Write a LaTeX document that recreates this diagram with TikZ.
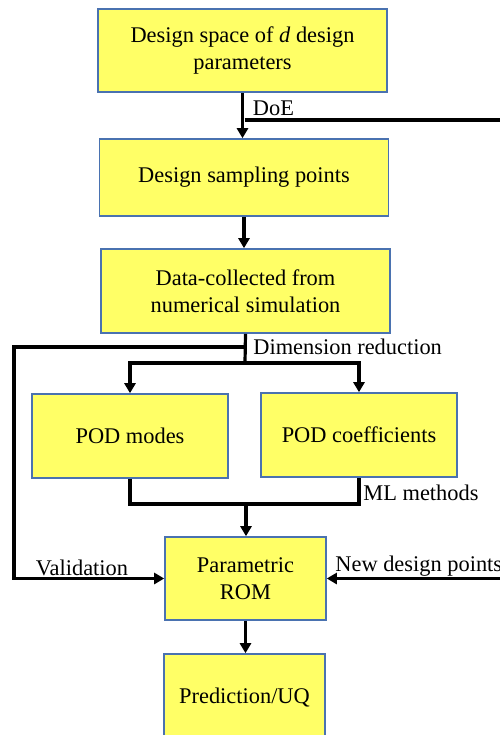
\documentclass[tikz,border=0pt]{standalone}
\usepackage{fontspec}
\setmainfont{Liberation Serif}
\usepackage{xcolor}
\usetikzlibrary{positioning,arrows.meta}
\definecolor{boxyellow}{HTML}{FFFF66}
\definecolor{boxedge}{HTML}{4A72B0}

\begin{document}
\begin{tikzpicture}[
x=0.5pt,y=-0.5pt,
box/.style={
draw=boxedge,
fill=boxyellow,
line width=0.8pt,
minimum width=144.5pt,
minimum height=41.5pt,
align=center,
inner sep=2pt,
font=\rmfamily\fontsize{11.2}{13.5}\selectfont
},
smallbox/.style={
box,
minimum width=80.5pt
},
link/.style={
line width=1.6pt,
color=black
},
arrow/.style={
link,
-{Triangle[length=5pt,width=5.5pt]}
},
lbl/.style={
font=\rmfamily\fontsize{11.2}{13.5}\selectfont,
inner sep=1pt
}
]
\useasboundingbox (0,0) rectangle (499,735);

\node[box] (space) at (242.5,50.5)
{Design space of \textit{d} design\\
parameters};

\node[box, minimum height=38.5pt] (sampling) at (244,177.5)
{Design sampling points};

\node[box, minimum height=42pt] (data) at (245.5,291)
{Data-collected from\\
numerical simulation};

\node[box, minimum width=98pt, minimum height=42pt] (modes) at (130,436)
{POD modes};

\node[box, minimum width=98pt, minimum height=42pt] (coeffs) at (359,435)
{POD coefficients};

\node[smallbox] (rom) at (245.5,578.5)
{Parametric\\
ROM};

\node[smallbox, minimum height=44pt] (predict) at (244.5,698)
{Prediction/UQ};

\coordinate (doe) at (244.5,120);
\coordinate (doeend) at (505,120);
\coordinate (split) at (245,347);
\coordinate (valcorner) at (14,347);
\coordinate (branch) at (245,363);
\coordinate (merge) at (246,504);
\coordinate (newin) at (505,578.5);

\draw[arrow] (space.south) -- (space.south |- sampling.north);
\draw[link] (doe) -- (doeend);
\node[lbl, anchor=south west] at ([xshift=3pt,yshift=1pt]doe) {DoE};

\draw[arrow] (sampling.south) -- (sampling.south |- data.north);

\draw[link] (data.south) -- (branch);
\draw[arrow] (branch) -| (modes.north);
\draw[arrow] (branch) -| (coeffs.north);
\node[lbl, anchor=west] at ([xshift=3pt]split) {Dimension reduction};

\draw[arrow] (split) -- (valcorner) |- (rom.west);
\node[lbl, anchor=south] at (82,578.5) {Validation};

\draw[link] (modes.south) |- (merge) -| (coeffs.south);
\draw[arrow] (merge) -- (merge |- rom.north);
\node[lbl, anchor=west] at (361,493) {ML methods};

\draw[arrow] (newin) -- (rom.east);
\node[lbl, anchor=south west] at (333,578.5) {New design points};

\draw[arrow] (rom.south) -- (rom.south |- predict.north);

\end{tikzpicture}
\end{document}
